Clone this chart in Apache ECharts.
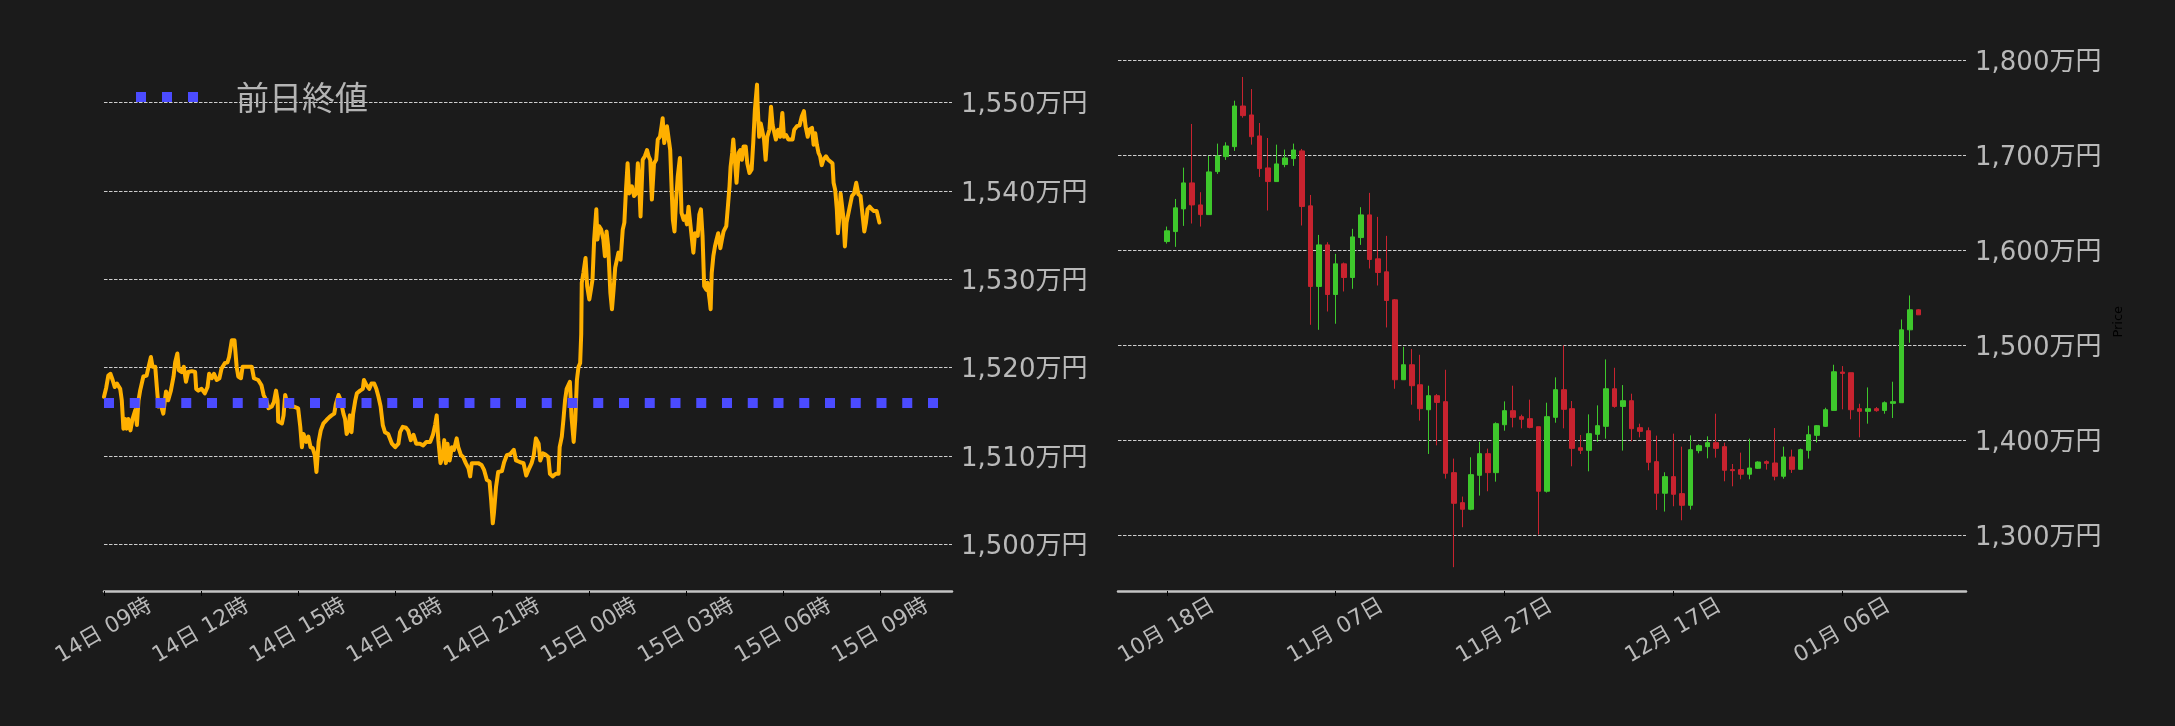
<!DOCTYPE html>
<html><head><meta charset="utf-8">
<script src="https://cdn.jsdelivr.net/npm/echarts@6/dist/echarts.min.js"></script>
<style>html,body{margin:0;padding:0;background:#1b1b1b}#c{width:2175px;height:726px}</style>
</head><body><div id="c"></div>
<script>
// ---------- DATA ----------
// Intraday (left): [minutes after 14日 09:00, price in 万円]
const intradayLine = [
[0,1516.7],[4,1517.7],[8,1519.1],[12,1519.3],[16,1518.6],[20,1517.8],[24,1518.2],[30,1517.6],[33,1516.3],[36,1513.1],[39,1514.2],[42,1513.1],[45,1514.2],[49,1512.9],[53,1514.2],[58,1515.2],[61,1513.5],[64,1516.3],[67,1517.4],[73,1519.0],[79,1519.1],[82,1519.9],[87,1521.2],[90,1520.1],[95,1520.1],[98,1517.8],[101,1515.6],[105,1515.9],[110,1514.8],[115,1517.3],[119,1516.3],[124,1517.4],[129,1519.0],[132,1520.6],[136,1521.6],[139,1519.7],[144,1519.5],[148,1520.1],[152,1518.4],[156,1519.5],[163,1519.6],[169,1519.5],[171,1517.6],[175,1517.4],[181,1517.6],[187,1517.1],[192,1517.8],[195,1519.3],[200,1518.8],[204,1519.3],[209,1518.6],[214,1518.8],[218,1519.9],[224,1520.5],[229,1520.6],[232,1521.2],[237,1523.1],[242,1523.1],[246,1520.1],[249,1519.0],[254,1518.8],[257,1520.1],[265,1520.1],[274,1520.1],[278,1518.8],[286,1518.6],[292,1518.0],[296,1516.9],[301,1516.3],[305,1515.4],[311,1515.6],[315,1516.1],[319,1517.4],[322,1516.3],[323,1513.9],[330,1513.7],[333,1514.6],[336,1516.9],[340,1515.9],[345,1515.6],[352,1515.6],[360,1515.4],[364,1513.3],[367,1511.0],[370,1512.5],[375,1511.6],[379,1512.2],[383,1511.0],[387,1510.9],[391,1510.1],[394,1508.2],[398,1511.6],[402,1512.9],[407,1513.7],[413,1514.1],[418,1514.4],[422,1514.6],[427,1514.8],[430,1515.9],[435,1516.9],[439,1516.3],[444,1514.8],[447,1514.2],[450,1512.5],[453,1512.9],[456,1514.6],[459,1512.7],[462,1514.8],[466,1516.3],[469,1517.1],[475,1517.4],[480,1517.6],[482,1518.6],[487,1518.0],[492,1517.6],[496,1518.2],[501,1518.2],[505,1517.6],[509,1516.7],[513,1515.6],[517,1513.5],[521,1512.7],[527,1512.5],[534,1511.4],[540,1511.0],[546,1511.4],[549,1512.7],[554,1513.3],[560,1513.2],[564,1512.9],[569,1511.8],[574,1512.4],[579,1511.4],[586,1511.4],[592,1511.2],[598,1511.6],[605,1511.6],[610,1512.4],[614,1513.5],[617,1514.6],[620,1511.8],[624,1509.2],[628,1509.9],[631,1511.8],[634,1509.2],[637,1511.4],[641,1509.5],[645,1511.0],[649,1510.7],[654,1512.0],[657,1511.0],[662,1510.1],[666,1509.9],[671,1509.2],[676,1508.6],[679,1507.7],[682,1509.2],[688,1509.2],[694,1509.2],[700,1509.0],[705,1508.4],[710,1507.3],[715,1507.1],[718,1505.0],[721,1502.4],[723,1503.5],[727,1506.5],[731,1508.2],[738,1508.3],[742,1509.3],[747,1510.1],[753,1510.2],
[760,1510.7],[764,1509.5],[772,1509.3],[778,1509.2],[783,1507.8],[787,1508.4],[793,1509.2],[797,1510.1],[801,1512.0],[806,1511.4],[809,1509.5],[814,1510.3],[818,1510.2],[824,1509.9],[827,1508.0],[832,1507.7],[838,1508.0],[843,1508.0],[845,1511.0],[849,1512.2],[852,1514.1],[855,1516.3],[858,1517.6],[861,1518.0],[864,1518.4],[867,1514.4],[871,1511.6],[874,1514.1],[877,1518.6],[880,1520.1],[883,1520.5],[885,1523.8],
[886,1529.6],[889,1530.7],[893,1532.4],[896,1529.2],[900,1527.7],[903,1528.8],[906,1530.0],[909,1534.5],[913,1537.9],[915,1534.5],[918,1536.0],[922,1535.6],[926,1534.5],[929,1532.6],[932,1535.4],[935,1533.7],[939,1528.5],[942,1526.6],[945,1528.8],[948,1531.3],[951,1531.5],[954,1533.0],[958,1532.2],[962,1535.6],[965,1536.4],[968,1540.1],[971,1543.1],[974,1539.7],[979,1540.5],[983,1539.4],[987,1539.7],[990,1543.1],[993,1540.1],[995,1537.1],[999,1543.5],[1003,1543.9],[1007,1544.6],[1010,1543.9],[1013,1543.5],[1016,1539.0],[1020,1543.1],[1024,1543.5],[1027,1545.8],[1031,1546.1],[1034,1547.3],[1036,1548.2],[1039,1545.4],[1044,1547.3],[1047,1547.3],[1050,1544.6],[1053,1539.7],[1055,1536.7],[1058,1535.4],[1061,1539.0],[1064,1541.6],[1068,1543.7],[1071,1537.5],[1075,1536.7],[1078,1537.1],[1081,1536.2],[1084,1538.2],[1087,1538.2],[1090,1534.7],[1093,1533.0],[1096,1535.2],[1101,1534.9],[1104,1537.3],[1107,1537.9],[1110,1534.9],[1113,1529.2],[1117,1528.8],[1119,1529.6],[1123,1527.7],[1125,1526.6],[1127,1530.7],[1130,1532.6],[1133,1533.7],[1136,1534.5],[1139,1535.2],[1143,1533.5],[1146,1534.5],[1149,1535.4],[1154,1536.0],[1157,1538.2],[1160,1540.5],[1162,1542.7],[1165,1544.3],[1167,1545.8],[1170,1543.5],[1173,1540.9],[1177,1544.3],[1180,1544.6],[1183,1543.5],[1186,1545.0],[1190,1545.0],[1193,1543.1],[1197,1542.0],[1201,1542.4],[1204,1545.4],[1207,1549.1],[1211,1552.0],[1212,1549.9],[1215,1546.1],[1218,1547.6],[1221,1547.6],[1224,1545.8],[1227,1543.5],[1230,1546.1],[1234,1546.9],[1237,1549.5],[1240,1547.4],[1243,1547.3],[1246,1545.8],[1250,1546.9],[1254,1546.1],[1258,1548.8],[1261,1546.1],[1265,1546.3],[1269,1545.8],[1272,1545.8],[1277,1545.8],[1280,1546.9],[1285,1547.3],[1290,1547.4],[1294,1548.4],[1298,1549.0],[1301,1547.3],[1305,1546.1],[1308,1546.9],[1313,1547.1],[1316,1545.2],[1319,1546.5],[1322,1545.2],[1325,1544.3],[1328,1543.9],[1331,1542.9],[1334,1543.5],[1339,1543.9],[1343,1543.5],[1347,1543.3],[1351,1543.1],[1353,1540.9],[1356,1540.1],[1359,1537.9],[1361,1535.2],[1364,1537.1],[1366,1539.7],[1369,1539.7],[1371,1537.1],[1374,1533.7],[1377,1536.4],[1382,1537.9],[1387,1539.4],[1391,1539.7],[1395,1540.9],[1399,1539.6],[1403,1539.4],[1407,1537.1],[1410,1535.4],[1413,1536.4],[1416,1537.9],[1420,1538.2],[1424,1537.9],[1428,1537.7],[1433,1537.7],[1436,1537.5],[1438,1536.4]
];
const previousClose = 1516.0;
const previousCloseName = '前日終値';
const intradayTickHours = [0, 3, 6, 9, 12, 15, 18, 21, 24];
const intradayYTicks = [1500, 1510, 1520, 1530, 1540, 1550];

// Daily candles (right) from 2025-10-18: [open, close, low, high] in 万円
const dailyOHLC = [
[1609.1,1620.4,1607.0,1624.9],[1619.6,1644.6,1603.5,1654.0],[1643.5,1670.9,1625.6,1687.0],[1670.9,1647.7,1628.1,1733.0],[1647.7,1637.5,1624.9,1661.1],
[1637.5,1682.5,1637.5,1699.3],[1682.8,1699.3,1680.4,1712.3],[1698.6,1709.8,1695.1,1713.7],[1709.1,1751.9,1704.6,1757.5],[1751.9,1741.8,1739.6,1782.5],
[1742.5,1719.6,1711.2,1769.8],[1720.4,1686.0,1677.2,1734.0],[1686.7,1672.3,1641.8,1718.2],[1672.3,1690.9,1672.3,1711.2],[1690.2,1697.2,1687.4,1706.0],
[1696.5,1705.6,1688.8,1712.3],[1704.6,1646.0,1626.0,1706.7],[1646.7,1561.8,1521.4,1658.2],[1561.8,1605.6,1516.1,1616.1],[1605.6,1553.3,1535.4,1608.4],
[1553.3,1585.6,1522.5,1596.1],[1585.6,1571.2,1556.5,1587.0],[1571.2,1614.0,1559.3,1622.5],[1613.3,1637.2,1605.6,1645.3],[1637.2,1590.2,1580.7,1660.4],
[1590.9,1576.5,1562.8,1635.1],[1577.2,1547.0,1518.6,1615.1],[1547.7,1463.5,1454.0,1548.5],[1463.5,1479.3,1463.5,1498.2],[1479.3,1457.2,1437.2,1495.8],
[1458.2,1433.0,1420.4,1489.8],[1431.9,1446.7,1385.3,1457.2],[1446.7,1439.6,1394.4,1448.4],[1440.4,1364.9,1359.3,1474.0],[1365.6,1333.3,1266.0,1380.4],
[1334.0,1327.0,1308.1,1340.4],[1327.0,1363.5,1326.0,1381.8],[1362.8,1385.6,1341.4,1398.2],[1385.6,1365.6,1346.0,1390.9],[1365.6,1417.2,1356.1,1418.6],
[1416.1,1430.9,1409.8,1440.7],[1430.9,1423.9,1413.3,1457.2],[1424.6,1421.8,1412.3,1426.7],[1422.5,1413.3,1412.3,1442.5],[1414.0,1346.0,1300.4,1414.0],
[1346.0,1424.6,1344.6,1439.3],[1423.9,1453.0,1418.2,1466.0],[1453.0,1432.3,1412.3,1499.6],[1433.0,1391.2,1372.3,1441.1],[1391.9,1389.1,1385.3,1405.3],
[1389.1,1406.7,1367.0,1427.0],[1406.0,1415.1,1398.2,1436.5],[1414.4,1454.0,1401.4,1484.9],[1454.0,1435.4,1434.0,1476.1],[1435.4,1441.4,1388.8,1457.9],
[1441.4,1411.9,1398.6,1448.8],[1413.0,1409.1,1402.8,1417.2],[1409.8,1376.5,1368.1,1413.3],[1377.2,1343.9,1326.3,1404.6],[1343.9,1361.4,1324.6,1366.0],
[1361.4,1342.8,1330.2,1406.7],[1343.5,1331.2,1315.4,1393.0],[1331.2,1389.8,1326.7,1404.9],[1388.8,1394.0,1386.0,1395.4],[1393.0,1397.2,1380.7,1403.9],
[1397.2,1391.2,1381.4,1427.7],[1393.0,1368.1,1356.5,1397.2],[1368.8,1367.7,1351.2,1374.7],[1368.8,1363.9,1358.6,1386.7],[1363.9,1370.5,1358.6,1401.4],
[1370.2,1376.8,1369.5,1377.5],[1377.2,1375.4,1368.8,1378.6],[1375.8,1361.8,1357.5,1412.6],[1361.8,1382.1,1359.3,1393.0],[1382.1,1369.1,1365.3,1389.8],
[1369.1,1389.8,1368.4,1390.9],[1389.1,1405.6,1380.4,1415.1],[1404.9,1415.1,1397.5,1415.8],[1414.4,1431.9,1413.7,1434.0],[1431.2,1471.9,1431.2,1479.3],
[1471.6,1470.2,1432.3,1477.9],[1470.9,1431.9,1421.8,1471.0],[1433.0,1430.2,1402.8,1438.2],[1430.2,1433.0,1417.2,1455.4],[1433.0,1430.9,1429.8,1434.7],
[1431.2,1439.3,1427.7,1440.7],[1438.6,1440.4,1423.2,1461.4],[1439.3,1516.1,1439.3,1527.0],[1516.1,1537.2,1502.5,1552.3],[1537.2,1531.9,1531.9,1537.9]
];
const dailyTickDays = [0, 20, 40, 60, 80];
const dailyYTicks = [1300, 1400, 1500, 1600, 1700, 1800];
const dailyYName = 'Price';

// ---------- CHART ----------
const MIN = 60000, HOUR = 3600000, DAY = 86400000;
const intraStart = new Date(2026, 0, 14, 9, 0, 0).getTime();
const dayDate = i => new Date(2025, 9, 18 + i).getTime();
const dailyStart = dayDate(0);
const pad2 = n => String(n).padStart(2, '0');
const FONT = "'DejaVu Sans', 'Noto Sans CJK JP', sans-serif";
const LABEL = '#b9b9b9';
const GRIDC = '#cdcdcd';

const lineData = intradayLine.map(p => [intraStart + p[0] * MIN, p[1]]);
const candleData = dailyOHLC.map((d, i) => [dayDate(i), d[0], d[1], d[2], d[3]]);

const yFmt = v => Math.round(v).toLocaleString('en-US') + '万円';

const chart = echarts.init(document.getElementById('c'), null, {renderer: 'canvas'});
chart.setOption({
  backgroundColor: '#1b1b1b',
  animation: false,
  legend: {
    data: [previousCloseName],
    left: 136, top: 79,
    padding: 0,
    itemWidth: 62, itemHeight: 10,
    icon: 'path://M0,0H10V10H0Z M26,0H36V10H26Z M52,0H62V10H52Z',
    textStyle: {color: '#b4b4b4', fontSize: 33, fontFamily: "'Noto Sans CJK JP', sans-serif", padding: [0, 0, 0, 33], lineHeight: 36},
    selectedMode: false
  },
  grid: [
    {left: 104, top: 58.1, width: 848, height: 532.9, outerBoundsMode: 'none', containLabel: false},
    {left: 1118, top: 52.5, width: 848, height: 538.5, outerBoundsMode: 'none', containLabel: false}
  ],
  xAxis: [
    {
      type: 'value', gridIndex: 0, scale: true,
      min: intraStart, max: intraStart + 26.21 * HOUR,
      axisLine: {show: true, lineStyle: {color: '#c4c4c4', width: 2.5}},
      axisTick: {show: true, length: 5, lineStyle: {color: '#000', width: 1}, customValues: intradayTickHours.map(h => intraStart + h * HOUR)},
      splitLine: {show: false},
      axisLabel: {
        customValues: intradayTickHours.map(h => intraStart + h * HOUR),
        rotate: 30, align: 'center', verticalAlign: 'middle', margin: 40,
        color: LABEL, fontSize: 22, fontFamily: FONT,
        formatter: v => { const d = new Date(v); return pad2(d.getDate()) + '日 ' + pad2(d.getHours()) + '時'; }
      }
    },
    {
      type: 'value', gridIndex: 1, scale: true,
      min: dailyStart - 5.78 * DAY, max: dailyStart + 94.62 * DAY,
      axisLine: {show: true, lineStyle: {color: '#c4c4c4', width: 2.5}},
      axisTick: {show: true, length: 5, lineStyle: {color: '#000', width: 1}, customValues: dailyTickDays.map(dayDate)},
      splitLine: {show: false},
      axisLabel: {
        customValues: dailyTickDays.map(dayDate),
        rotate: 30, align: 'center', verticalAlign: 'middle', margin: 40,
        color: LABEL, fontSize: 22, fontFamily: FONT,
        formatter: v => { const d = new Date(v); return pad2(d.getMonth() + 1) + '月 ' + pad2(d.getDate()) + '日'; }
      }
    }
  ],
  yAxis: [
    {
      type: 'value', gridIndex: 0, position: 'right',
      min: 1494.74, max: 1555,
      axisLine: {show: false},
      axisTick: {show: false, customValues: intradayYTicks},
      splitLine: {show: true, lineStyle: {color: GRIDC, width: 1, type: [3.5, 1.5]}},
      axisLabel: {customValues: intradayYTicks, margin: 9, verticalAlign: 'top', lineHeight: 6, color: LABEL, fontSize: 26, fontFamily: FONT, formatter: yFmt}
    },
    {
      type: 'value', gridIndex: 1, position: 'right',
      min: 1240.9, max: 1808.3,
      axisLine: {show: false},
      axisTick: {show: false, customValues: dailyYTicks},
      splitLine: {show: true, lineStyle: {color: GRIDC, width: 1, type: [3.5, 1.5]}},
      axisLabel: {customValues: dailyYTicks, margin: 9, verticalAlign: 'top', lineHeight: 6, color: LABEL, fontSize: 26, fontFamily: FONT, formatter: yFmt},
      name: dailyYName, nameLocation: 'middle', nameRotate: 90, nameGap: 146,
      nameTextStyle: {color: '#000', fontSize: 13, fontFamily: FONT}
    }
  ],
  series: [
    {
      name: 'price', type: 'line', xAxisIndex: 0, yAxisIndex: 0,
      data: lineData, showSymbol: false, symbol: 'none',
      lineStyle: {color: '#ffb000', width: 4, join: 'round', cap: 'round'},
      itemStyle: {color: '#ffb000'}, z: 2
    },
    {
      name: previousCloseName, type: 'line', xAxisIndex: 0, yAxisIndex: 0,
      data: [], symbol: 'none',
      itemStyle: {color: '#4b4bff'}, lineStyle: {color: '#4b4bff'},
      markLine: {
        silent: true, symbol: 'none', label: {show: false},
        lineStyle: {color: '#4b4bff', width: 10, type: [10, 15.75], cap: 'butt'},
        data: [{yAxis: previousClose}]
      },
      z: 3
    },
    {
      name: 'daily', type: 'candlestick', xAxisIndex: 1, yAxisIndex: 1,
      data: candleData, encode: {x: 0, y: [1, 2, 3, 4]},
      barWidth: 5,
      itemStyle: {color: '#3ec82c', color0: '#c8232f', borderColor: '#3ec82c', borderColor0: '#c8232f', borderWidth: 1}
    }
  ]
});
</script></body></html>
